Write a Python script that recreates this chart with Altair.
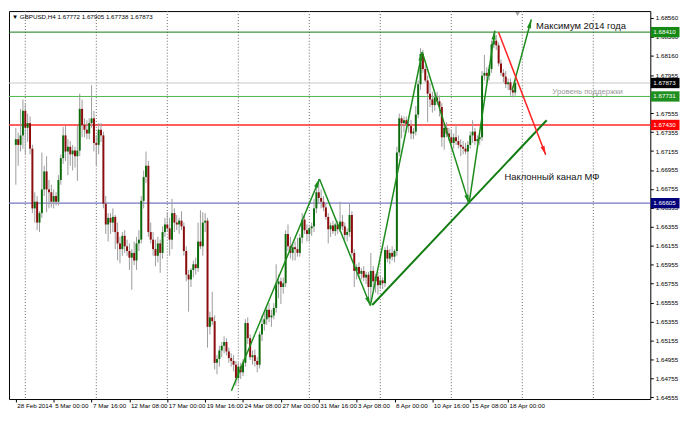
import math
import altair as alt
import pandas as pd

# ---------------- data (prices in pips: v -> 1 + v/10000) ----------------
opens = [6722, 6728, 6722, 6732, 6758, 6740, 6745, 6718, 6655, 6662,
         6640, 6650, 6675, 6694, 6675, 6672, 6662, 6668, 6662, 6685,
         6708, 6732, 6715, 6720, 6712, 6716, 6710, 6716, 6760, 6743,
         6738, 6734, 6745, 6750, 6724, 6722, 6738, 6732, 6660, 6638,
         6645, 6640, 6646, 6630, 6618, 6612, 6626, 6615, 6610, 6603,
         6608, 6600, 6618, 6622, 6663, 6688, 6700, 6630, 6622, 6612,
         6605, 6618, 6608, 6630, 6638, 6634, 6622, 6650, 6640, 6638,
         6642, 6636, 6610, 6585, 6580, 6590, 6596, 6592, 6620, 6615,
         6640, 6642, 6530, 6540, 6536, 6492, 6496, 6505, 6510, 6514,
         6504, 6497, 6494, 6490, 6476, 6488, 6482, 6492, 6534, 6518,
         6498, 6500, 6494, 6490, 6522, 6533, 6538, 6548, 6540, 6542,
         6550, 6575, 6578, 6572, 6576, 6628, 6615, 6608, 6614, 6612,
         6608, 6624, 6643, 6632, 6628, 6634, 6636, 6655, 6672, 6666,
         6662, 6656, 6646, 6633, 6637, 6631, 6638, 6633, 6641, 6636,
         6627, 6630, 6648, 6608, 6589, 6593, 6586, 6589, 6582, 6585,
         6572, 6589, 6578, 6583, 6574, 6579, 6576, 6611, 6602, 6608,
         6604, 6610, 6714, 6750, 6745, 6748, 6744, 6742, 6734, 6736,
         6754, 6786, 6818, 6802, 6790, 6776, 6770, 6764, 6772, 6768,
         6762, 6730, 6740, 6734, 6730, 6724, 6730, 6726, 6722, 6720,
         6718, 6715, 6722, 6732, 6736, 6726, 6728, 6730, 6795, 6798,
         6795, 6802, 6828, 6832, 6827, 6808, 6798, 6794, 6786, 6788,
         6780, 6777.2]
highs = [6740, 6735, 6760, 6770, 6765, 6755, 6752, 6722, 6672, 6668,
         6652, 6714, 6700, 6710, 6685, 6680, 6675, 6672, 6690, 6712,
         6741, 6742, 6728, 6726, 6722, 6720, 6742, 6776, 6770, 6750,
         6748, 6750, 6785, 6758, 6732, 6745, 6745, 6736, 6668, 6650,
         6650, 6655, 6648, 6640, 6625, 6630, 6632, 6622, 6618, 6612,
         6620, 6625, 6632, 6668, 6695, 6715, 6705, 6640, 6630, 6622,
         6625, 6622, 6636, 6645, 6651, 6645, 6665, 6655, 6648, 6645,
         6652, 6640, 6615, 6590, 6592, 6600, 6603, 6640, 6653, 6651,
         6650, 6645, 6546, 6567, 6542, 6500, 6510, 6514, 6520, 6518,
         6508, 6502, 6500, 6494, 6492, 6492, 6496, 6538, 6540, 6522,
         6505, 6506, 6498, 6525, 6542, 6545, 6552, 6555, 6548, 6555,
         6596, 6585, 6582, 6582, 6632, 6638, 6625, 6618, 6620, 6624,
         6628, 6650, 6648, 6638, 6636, 6640, 6665, 6682, 6686, 6675,
         6668, 6660, 6650, 6640, 6642, 6640, 6642, 6662, 6648, 6640,
         6634, 6660, 6652, 6612, 6596, 6598, 6592, 6594, 6588, 6588,
         6608, 6594, 6586, 6588, 6584, 6582, 6614, 6616, 6612, 6615,
         6612, 6720, 6755, 6753, 6752, 6752, 6750, 6748, 6740, 6763,
         6790, 6824, 6822, 6806, 6795, 6787, 6778, 6776, 6778, 6774,
         6766, 6745, 6746, 6740, 6738, 6734, 6743, 6732, 6728, 6726,
         6724, 6726, 6736, 6748, 6740, 6732, 6734, 6800, 6817, 6804,
         6806, 6832, 6841, 6838, 6830, 6812, 6802, 6800, 6792, 6792,
         6784, 6790.5]
lows = [6680, 6700, 6715, 6718, 6712, 6725, 6712, 6650, 6640, 6632,
        6630, 6645, 6668, 6651, 6655, 6656, 6655, 6658, 6658, 6680,
        6702, 6705, 6690, 6700, 6695, 6698, 6684, 6710, 6730, 6730,
        6728, 6728, 6740, 6715, 6700, 6712, 6725, 6655, 6628, 6620,
        6628, 6630, 6612, 6600, 6597, 6605, 6608, 6605, 6590, 6569,
        6595, 6590, 6610, 6618, 6655, 6682, 6625, 6618, 6605, 6594,
        6598, 6587, 6602, 6625, 6630, 6605, 6612, 6630, 6632, 6628,
        6632, 6605, 6578, 6546, 6572, 6582, 6585, 6588, 6612, 6605,
        6630, 6508, 6522, 6532, 6485, 6480, 6488, 6498, 6502, 6500,
        6492, 6488, 6483, 6468, 6472, 6475, 6478, 6488, 6512, 6495,
        6490, 6488, 6482, 6486, 6515, 6526, 6532, 6535, 6530, 6538,
        6545, 6560, 6554, 6565, 6572, 6610, 6602, 6600, 6600, 6604,
        6604, 6618, 6628, 6620, 6620, 6626, 6630, 6650, 6660, 6655,
        6652, 6643, 6618, 6625, 6628, 6626, 6628, 6630, 6632, 6622,
        6620, 6625, 6605, 6572, 6580, 6582, 6580, 6578, 6575, 6558,
        6556, 6569, 6566, 6564, 6570, 6570, 6572, 6598, 6596, 6600,
        6598, 6605, 6710, 6729, 6735, 6738, 6735, 6728, 6728, 6732,
        6750, 6780, 6798, 6788, 6746, 6762, 6756, 6758, 6764, 6752,
        6720, 6717, 6730, 6726, 6717, 6718, 6722, 6718, 6710, 6712,
        6712, 6660, 6718, 6724, 6722, 6720, 6722, 6726, 6790, 6788,
        6790, 6798, 6824, 6822, 6805, 6795, 6788, 6782, 6780, 6774,
        6772, 6773.8]
closes = [6728, 6722, 6732, 6758, 6740, 6745, 6718, 6655, 6662, 6640,
          6650, 6675, 6694, 6675, 6672, 6662, 6668, 6662, 6685, 6708,
          6732, 6715, 6720, 6712, 6716, 6710, 6716, 6760, 6743, 6738,
          6734, 6745, 6750, 6724, 6722, 6738, 6732, 6660, 6638, 6645,
          6640, 6646, 6630, 6618, 6612, 6626, 6615, 6610, 6603, 6608,
          6600, 6618, 6622, 6663, 6688, 6700, 6630, 6622, 6612, 6605,
          6618, 6608, 6630, 6638, 6634, 6622, 6650, 6640, 6638, 6642,
          6636, 6610, 6585, 6580, 6590, 6596, 6592, 6620, 6615, 6640,
          6642, 6530, 6540, 6536, 6492, 6496, 6505, 6510, 6514, 6504,
          6497, 6494, 6490, 6476, 6488, 6482, 6492, 6534, 6518, 6498,
          6500, 6494, 6490, 6522, 6533, 6538, 6548, 6540, 6542, 6550,
          6575, 6578, 6572, 6576, 6628, 6615, 6608, 6614, 6612, 6608,
          6624, 6643, 6632, 6628, 6634, 6636, 6655, 6672, 6666, 6662,
          6656, 6646, 6633, 6637, 6631, 6638, 6633, 6641, 6636, 6627,
          6630, 6648, 6608, 6589, 6593, 6586, 6589, 6582, 6585, 6572,
          6589, 6578, 6583, 6574, 6579, 6576, 6611, 6602, 6608, 6604,
          6610, 6714, 6750, 6745, 6748, 6744, 6742, 6734, 6736, 6754,
          6786, 6818, 6802, 6790, 6776, 6770, 6764, 6772, 6768, 6762,
          6730, 6740, 6734, 6730, 6724, 6730, 6726, 6722, 6720, 6718,
          6715, 6722, 6732, 6736, 6726, 6728, 6730, 6795, 6798, 6795,
          6802, 6828, 6832, 6827, 6808, 6798, 6794, 6786, 6788, 6780,
          6777.2, 6787.3]

symbol = "GBPUSD,H4"

x_tick_values = [0, 16, 32, 48, 64, 80, 96, 112, 128, 144, 160, 176, 192, 208]
x_tick_labels = ["28 Feb 2014", "5 Mar 00:00", "7 Mar 16:00", "12 Mar 08:00",
                 "17 Mar 00:00", "19 Mar 16:00", "24 Mar 08:00", "27 Mar 00:00",
                 "31 Mar 16:00", "3 Apr 08:00", "8 Apr 00:00", "10 Apr 16:00",
                 "15 Apr 08:00", "18 Apr 00:00"]
# 1.67755 is hidden behind the 1.67731 level box in the reference
y_tick_values = [1.68560, 1.68360, 1.68160, 1.67955, 1.67555, 1.67355,
                 1.67155, 1.66955, 1.66755, 1.66555, 1.66355, 1.66155, 1.65955,
                 1.65755, 1.65555, 1.65355, 1.65155, 1.64955, 1.64755, 1.64555]
week_separators = [4, 34, 64, 94, 124, 154, 184, 214, 244]
shift_marker = [212]

level_prices = [1.68410, 1.67873, 1.67731, 1.67430, 1.66605]
level_line_colors = ["#127a12", "#c8c8c8", "#4cb84c", "#ff2a2a", "#7474c4"]
level_line_widths = [1.0, 1.0, 1.0, 1.6, 1.2]
level_box_colors = ["#148a14", "#000000", "#1f8f1f", "#ff0000", "#00007a"]

# arrows: (bar index, price) -> (bar index, price)
arrow_x1 = [91.1, 128.3, 149.8, 171.7, 191.5, 209.7, 204.0]
arrow_y1 = [1.64626, 1.66860, 1.65524, 1.68200, 1.66600, 1.67795, 1.68406]
arrow_x2 = [128.3, 149.8, 171.7, 191.5, 202.4, 217.8, 223.9]
arrow_y2 = [1.66860, 1.65524, 1.68200, 1.66600, 1.68425, 1.68543, 1.67116]
arrow_colors = ["#1c8c1c"] * 6 + ["#ff2020"]

channel_x = [150.6, 224.3]
channel_y = [1.65530, 1.67480]

note_texts = ["Максимум 2014 года", "Уровень поддержки", "Наклонный канал МФ"]
note_x = [219.8, 226.7, 206.5]
note_y = [1.68440, 1.67756, 1.66851]
note_sizes = [9.5, 7.8, 9.5]
note_colors = ["#111111", "#9a9a9a", "#111111"]

# ---------------- layout ----------------
W, H = 648, 392
X_DOMAIN = [-0.8, 266.0]
Y_DOMAIN = [1.64538, 1.68632]
FONT = "Liberation Sans"

xs = alt.Scale(domain=X_DOMAIN, nice=False, zero=False)
ys = alt.Scale(domain=Y_DOMAIN, nice=False, zero=False)

lab_arr = "[" + ",".join("'" + s + "'" for s in x_tick_labels) + "]"
val_arr = "[" + ",".join(str(v) for v in x_tick_values) + "]"
x_axis = alt.Axis(orient="bottom", values=x_tick_values,
                  labelExpr=f"{lab_arr}[indexof({val_arr}, datum.value)]",
                  labelAlign="left", labelOffset=1, labelPadding=1, labelFlush=False,
                  labelOverlap=False, tickSize=3, tickColor="black", domain=False,
                  grid=False, title=None, labelFont=FONT, labelFontSize=6.3,
                  labelColor="black")
y_axis = alt.Axis(orient="right", values=y_tick_values, format=".5f", labelAlign="left",
                  labelPadding=2, labelOverlap=False, labelFlush=False, tickSize=3,
                  tickColor="black", domain=False, grid=False, title=None,
                  labelFont=FONT, labelFontSize=6.3, labelColor="black",
                  labelBaseline="middle")


def X(field):
    return alt.X(field, scale=xs, axis=x_axis)


def Y(field):
    return alt.Y(field, scale=ys, axis=y_axis)


def px(v):
    return 1 + v / 10000.0


n = len(closes)
candles = pd.DataFrame({
    "i": list(range(n)),
    "open": [px(v) for v in opens],
    "high": [px(v) for v in highs],
    "low": [px(v) for v in lows],
    "close": [px(v) for v in closes],
})
candles["color"] = ["#0b6b0b" if c >= o else "#8a0c0c" for o, c in zip(opens, closes)]

sep_df = pd.DataFrame({"i": week_separators})
sep = alt.Chart(sep_df).mark_rule(color="#666666", strokeDash=[1, 2], strokeWidth=1).encode(
    x=X("i:Q"))

lv_df = pd.DataFrame({"p": level_prices, "c": level_line_colors, "w": level_line_widths,
                      "b": level_box_colors,
                      "t": [f"{p:.5f}" for p in level_prices]})
levels = alt.Chart(lv_df).mark_rule().encode(
    y=Y("p:Q"),
    color=alt.Color("c:N", scale=None),
    strokeWidth=alt.StrokeWidth("w:Q", scale=None))

wicks = alt.Chart(candles).mark_rule(color="#9c9c9c", strokeWidth=1).encode(
    x=X("i:Q"), y=Y("low:Q"), y2="high:Q")
bodies = alt.Chart(candles).mark_bar(size=2).encode(
    x=X("i:Q"), y=Y("open:Q"), y2="close:Q",
    color=alt.Color("color:N", scale=None))

sx = W / (X_DOMAIN[1] - X_DOMAIN[0])
sy = H / (Y_DOMAIN[1] - Y_DOMAIN[0])
angles = []
for x1, y1, x2, y2 in zip(arrow_x1, arrow_y1, arrow_x2, arrow_y2):
    dx = (x2 - x1) * sx
    dy = -(y2 - y1) * sy
    angles.append(math.degrees(math.atan2(dx, -dy)) % 360)
ar_df = pd.DataFrame({"x1": arrow_x1, "y1": arrow_y1, "x2": arrow_x2, "y2": arrow_y2,
                      "c": arrow_colors, "a": angles})
arrow_lines = alt.Chart(ar_df).mark_rule(strokeWidth=1.5).encode(
    x=X("x1:Q"), y=Y("y1:Q"), x2="x2:Q", y2="y2:Q", color=alt.Color("c:N", scale=None))
ARROW = "M0,0L0.38,1.6L-0.38,1.6Z"
arrow_heads = alt.Chart(ar_df).mark_point(shape=ARROW, filled=True, size=125, opacity=1,
                                          strokeWidth=0).encode(
    x=X("x2:Q"), y=Y("y2:Q"),
    color=alt.Color("c:N", scale=None), angle=alt.Angle("a:Q", scale=None))

ch_df = pd.DataFrame({"x1": [channel_x[0]], "y1": [channel_y[0]],
                      "x2": [channel_x[1]], "y2": [channel_y[1]]})
channel = alt.Chart(ch_df).mark_rule(strokeWidth=2, color="#127c12").encode(
    x=X("x1:Q"), y=Y("y1:Q"), x2="x2:Q", y2="y2:Q")

nt_df = pd.DataFrame({"t": note_texts, "x": note_x, "y": note_y, "s": note_sizes, "c": note_colors})
notes = alt.Chart(nt_df).mark_text(align="left", baseline="alphabetic", font=FONT).encode(
    x=X("x:Q"), y=Y("y:Q"),
    text="t:N", size=alt.Size("s:Q", scale=None), color=alt.Color("c:N", scale=None))

BOX = "M-1,-0.36L1,-0.36L1,0.36L-1,0.36Z"
boxes = alt.Chart(lv_df).mark_point(shape=BOX, filled=True, size=29 * 29, opacity=1,
                                    strokeWidth=0).encode(
    x=alt.value(W + 15), y=Y("p:Q"),
    color=alt.Color("b:N", scale=None))
box_text = alt.Chart(lv_df).mark_text(align="left", baseline="middle", font=FONT,
                                      fontSize=6.3, color="white").encode(
    x=alt.value(W + 3), y=Y("p:Q"), text="t:N")

last = len(closes) - 1
header_df = pd.DataFrame({"t": ["▼  " + symbol + "  " + " ".join(
    f"{px(v):.5f}" for v in [opens[last], highs[last], lows[last], closes[last]])]})
header = alt.Chart(header_df).mark_text(align="left", baseline="middle", font=FONT,
                                        fontSize=6.3, color="black").encode(
    x=alt.value(3), y=alt.value(6), text="t:N")

sm_df = pd.DataFrame({"i": shift_marker})
shift = alt.Chart(sm_df).mark_point(shape="triangle-down", filled=True, size=22,
                                    color="#a0a0a0", opacity=1).encode(
    x=X("i:Q"), y=alt.value(3))

chart = alt.layer(sep, levels, wicks, bodies, channel, arrow_lines, arrow_heads, notes,
                  boxes, box_text, header, shift).properties(
    width=W, height=H, padding={"left": 0, "top": 0, "right": 0, "bottom": 0},
    background="white"
).configure_view(stroke="black", strokeWidth=1)

chart.save("out.html", embed_options={"renderer": "svg", "actions": False})
